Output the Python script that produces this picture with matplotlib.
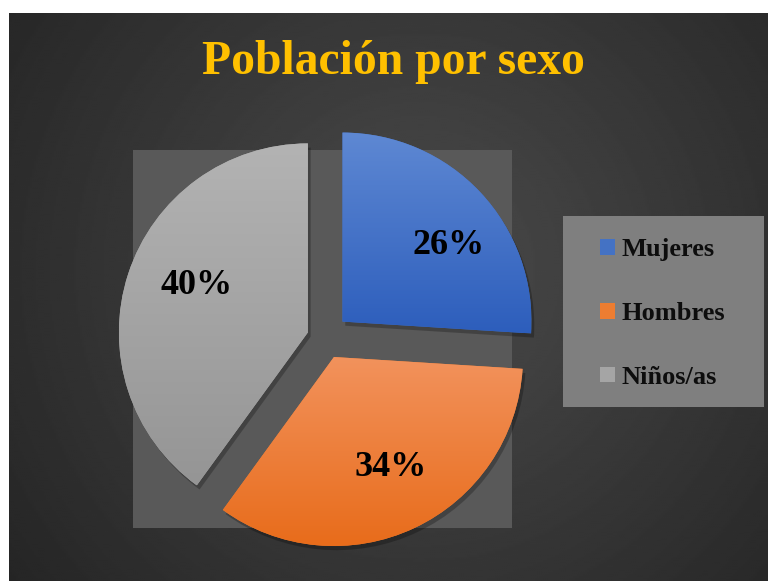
import numpy as np
import matplotlib
matplotlib.use("Agg")
import matplotlib.pyplot as plt
from matplotlib.patches import Rectangle
from matplotlib.colors import LinearSegmentedColormap
import matplotlib.patheffects as pe

# ---- data ----
title = "Población por sexo"
categories = ["Mujeres", "Hombres", "Niños/as"]
values = [26, 34, 40]
top_colors = ["#5E88D3", "#F2925C", "#B3B3B3"]
bottom_colors = ["#2D5EBC", "#E86C1B", "#959595"]
mid_colors = ["#4472C4", "#ED7D31", "#A5A5A5"]

W, H = 768, 581
fig = plt.figure(figsize=(W / 100, H / 100), dpi=100, facecolor="white")
ax = fig.add_axes([0, 0, 1, 1])
ax.axis("off")

serif = ["Liberation Serif", "DejaVu Serif"]

# ---- background radial gradient ----
bx0, bx1, by0, by1 = 9, W, 0, H - 13
nx, ny = 380, 290
xs = np.linspace(bx0, bx1, nx)
ys = np.linspace(by1, by0, ny)
X, Y = np.meshgrid(xs, ys)
cxg, cyg = 420, H - 270
d = np.sqrt((X - cxg) ** 2 + (Y - cyg) ** 2)
v = 0.295 - (0.295 - 0.145) * np.clip(d / 520, 0, 1)
ax.imshow(v, extent=(bx0, bx1, by0, by1), origin="upper", cmap="gray",
          vmin=0, vmax=1, zorder=0, aspect="auto", interpolation="bilinear")

# ---- plot area ----
ax.add_patch(Rectangle((133, H - 528), 379, 378, facecolor="#595959",
                       edgecolor="none", zorder=1))

# ---- pie ----
radius = 189
center = (325, H - 338)
explode = [24, 21, 18]  # offsets in pixels
wedges, texts, autotexts = ax.pie(
    values, explode=explode, startangle=90, counterclock=False,
    radius=radius, center=center, colors=mid_colors,
    autopct=lambda p: f"{p:.0f}%", pctdistance=0.65,
    wedgeprops=dict(linewidth=0, zorder=3),
    textprops=dict(fontfamily=serif, fontweight="bold", fontsize=26, color="black"),
)

for i, w in enumerate(wedges):
    ext = w.get_path().get_extents()
    cmap = LinearSegmentedColormap.from_list(f"g{i}", [bottom_colors[i], top_colors[i]])
    grad = np.linspace(1, 0, 200).reshape(-1, 1)
    im = ax.imshow(grad, extent=(ext.x0, ext.x1, ext.y0, ext.y1), origin="upper",
                   cmap=cmap, vmin=0, vmax=1, aspect="auto", zorder=4)
    im.set_clip_path(w)

# label placement (layout tweaks relative to each wedge)
label_shift = [-7.5, 2, -5]
label_dist = [0.69, 0.655, 0.64]
for w, t, s, dd in zip(wedges, autotexts, label_shift, label_dist):
    a = np.deg2rad((w.theta1 + w.theta2) / 2 + s)
    cx, cy = w.center
    t.set_position((cx + dd * radius * np.cos(a), cy + dd * radius * np.sin(a)))
    t.set_zorder(6)
    t.set_ha("center")
    t.set_va("center")

# ---- legend ----
ax.add_patch(Rectangle((563, H - 407), 201, 191, facecolor="#7F7F7F",
                       edgecolor="none", zorder=2))
leg = ax.legend(wedges, categories, loc="upper left",
                bbox_to_anchor=(600, H - 238), bbox_transform=ax.transData,
                frameon=False, borderpad=0, borderaxespad=0,
                handlelength=0.55, handleheight=0.55, handletextpad=0.25,
                labelspacing=1.55,
                prop=dict(family=serif, weight="bold", size=19))
for t in leg.get_texts():
    t.set_color("#0D0D0D")
leg.set_zorder(7)

# subtle drop shadow on slices (after legend so handles stay flat)
for w in wedges:
    w.set_path_effects([pe.SimplePatchShadow(offset=(2, -3), alpha=0.25,
                                             shadow_rgbFace="black"), pe.Normal()])

# ---- title ----
ax.text(393, H - 62, title, ha="center", va="center", fontsize=34.3,
        fontweight="bold", fontfamily=serif, color="#FFC000", zorder=8)

ax.set_xlim(0, W)
ax.set_ylim(0, H)
ax.set_aspect("auto")

fig.savefig("out.png", dpi=100, facecolor="white")
